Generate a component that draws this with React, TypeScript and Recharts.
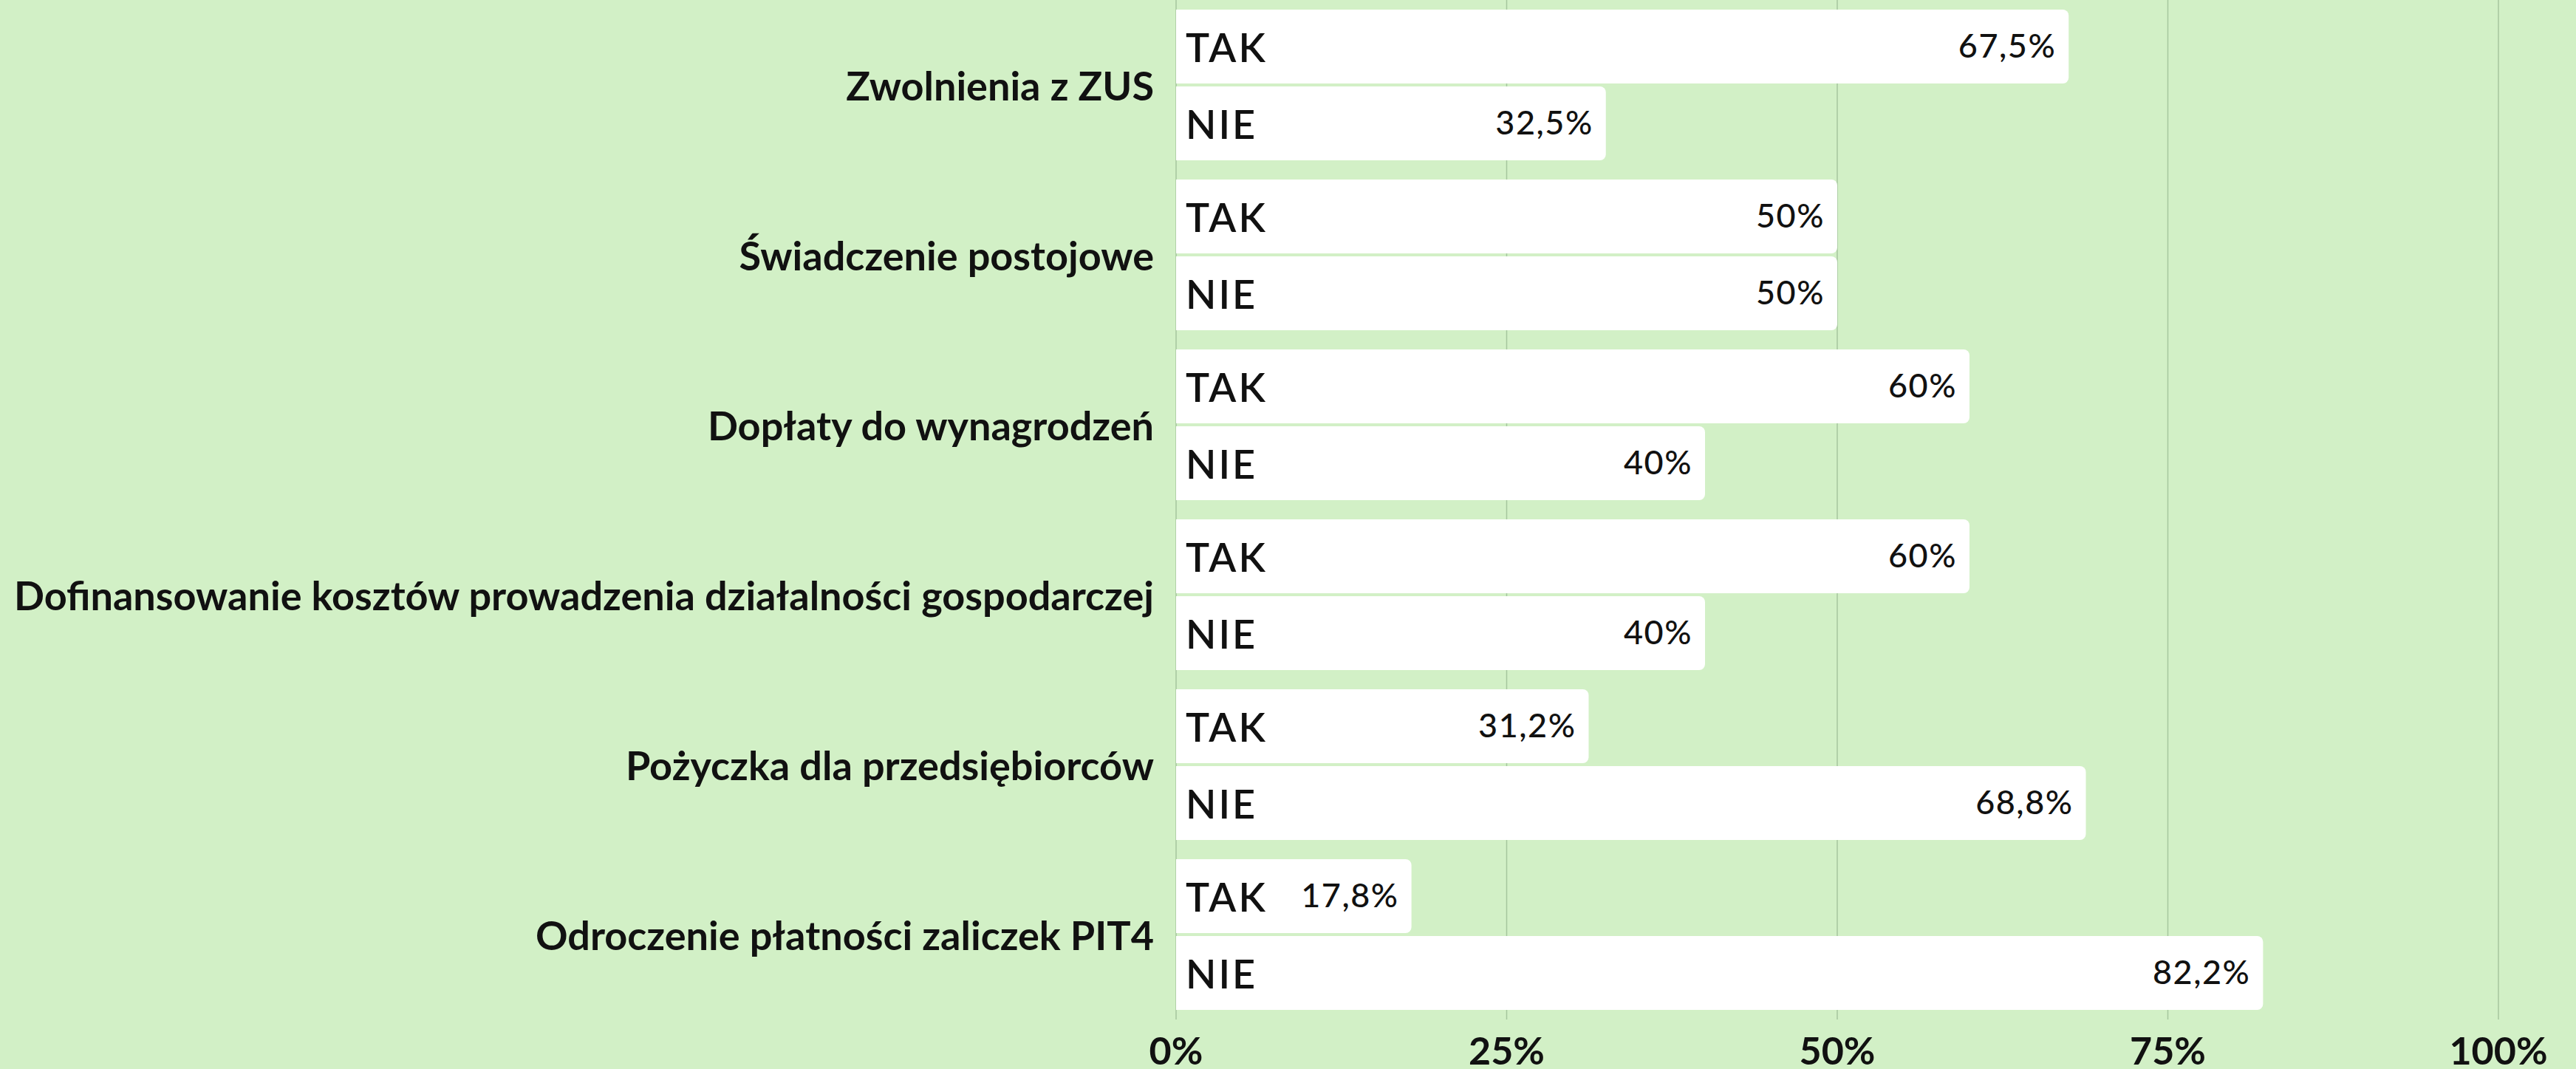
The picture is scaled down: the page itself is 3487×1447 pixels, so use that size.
import React from 'react';
import { BarChart, Bar, XAxis, YAxis, CartesianGrid, LabelList } from 'recharts';

const categories = [
  'Zwolnienia z ZUS',
  'Świadczenie postojowe',
  'Dopłaty do wynagrodzeń',
  'Dofinansowanie kosztów prowadzenia działalności gospodarczej',
  'Pożyczka dla przedsiębiorców',
  'Odroczenie płatności zaliczek PIT4',
];
const takValues = [67.5, 50, 60, 60, 31.2, 17.8];
const nieValues = [32.5, 50, 40, 40, 68.8, 82.2];
const xTicks = [0, 25, 50, 75, 100];
const seriesNames = ['TAK', 'NIE'];

const data = categories.map((c, i) => ({ name: c, tak: takValues[i], nie: nieValues[i] }));

const W = 3487;
const H = 1447;
const BG = '#d2f0c6';
const GRID = '#a6c69e';
const FONT = 'Lato, "Noto Sans", sans-serif';

const fmt = (v: number) => String(v).replace('.', ',') + '%';

const YTick = (props: any) => {
  const { y, payload } = props;
  return (
    <text x={1562} y={y} textAnchor="end" dominantBaseline="central" fontFamily={FONT} fontWeight={700} fontSize={54} fill="#111">
      {payload.value}
    </text>
  );
};

const XTick = (props: any) => {
  const { x, payload } = props;
  return (
    <text x={x} y={1421} textAnchor="middle" dominantBaseline="central" fontFamily={FONT} fontWeight={700} fontSize={52} fill="#111">
      {payload.value}%
    </text>
  );
};

const nameLabel = (label: string) => (props: any) => {
  const { x, y, height } = props;
  return (
    <text x={Number(x) + 13} y={Number(y) + Number(height) / 2} dominantBaseline="central" fontFamily={FONT} fontWeight={600} fontSize={54} letterSpacing={3} fill="#111">
      {label}
    </text>
  );
};

const valueLabel = (props: any) => {
  const { x, y, width, height, value } = props;
  return (
    <text x={Number(x) + Number(width) - 17} y={Number(y) + Number(height) / 2 - 2} textAnchor="end" dominantBaseline="central" fontFamily={FONT} fontWeight={500} fontSize={45} letterSpacing={1.5} fill="#111">
      {fmt(value)}
    </text>
  );
};

export default function App() {
  return (
    <div style={{ position: 'absolute', left: 0, top: 0, width: W, height: H, background: BG }}>
      <BarChart
        width={W}
        height={H}
        data={data}
        layout="vertical"
        margin={{ top: 0, right: 105, bottom: 0, left: 0 }}
        barCategoryGap={13}
        barGap={4}
      >
        <CartesianGrid horizontal={false} stroke={GRID} strokeWidth={1.5} />
        <XAxis type="number" domain={[0, 100]} ticks={xTicks} axisLine={false} tickLine={false} height={67} tick={<XTick />} interval={0} />
        <YAxis type="category" dataKey="name" width={1592} axisLine={false} tickLine={false} tick={<YTick />} interval={0} />
        <Bar dataKey="tak" name={seriesNames[0]} fill="#ffffff" radius={[0, 8, 8, 0]} isAnimationActive={false}>
          <LabelList dataKey="tak" content={nameLabel(seriesNames[0])} />
          <LabelList dataKey="tak" content={valueLabel} />
        </Bar>
        <Bar dataKey="nie" name={seriesNames[1]} fill="#ffffff" radius={[0, 8, 8, 0]} isAnimationActive={false}>
          <LabelList dataKey="nie" content={nameLabel(seriesNames[1])} />
          <LabelList dataKey="nie" content={valueLabel} />
        </Bar>
      </BarChart>
    </div>
  );
}
